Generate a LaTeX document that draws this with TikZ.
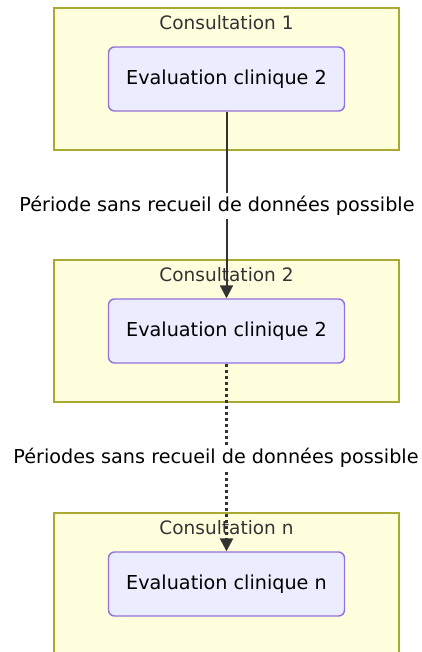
\documentclass[tikz,border=0pt]{standalone}
\usepackage{fontspec}
\setmainfont{DejaVu Sans}
\usetikzlibrary{calc,arrows.meta}
\definecolor{clfill}{HTML}{FFFFDE}
\definecolor{cldraw}{HTML}{AAAA33}
\definecolor{evfill}{HTML}{ECECFF}
\definecolor{evdraw}{HTML}{9370DB}
\definecolor{trait}{HTML}{333333}

\begin{document}
\begin{tikzpicture}[x=1pt,y=-1pt,
  cons/.style={draw=cldraw,fill=clfill,line width=1.4pt,minimum width=345pt,minimum height=142pt,inner sep=0pt},
  titre/.style={text=trait,inner sep=0pt,font=\fontsize{18.5}{22}\selectfont},
  eval/.style={draw=evdraw,fill=evfill,line width=1.4pt,rounded corners=6pt,minimum width=236pt,minimum height=64pt,inner sep=0pt,font=\fontsize{19.2}{23}\selectfont},
  lien/.style={draw=trait,line width=2pt,-{Triangle[width=13pt,length=13pt]}},
  etiq/.style={fill=white,inner sep=3pt,font=\fontsize{19.2}{23}\selectfont}]
%\draw[help lines] (0,0) grid[step=10pt] (422,652);
\useasboundingbox (0,0) rectangle (422,652);
\foreach \i/\e/\y in {1/2/0,2/2/252,n/n/505}{
\node[cons] (cons\i) at (226.5,79+\y) {};
\node[titre] (titre\i) at ($(cons\i.north)+(0,15)$) {Consultation \i};
\node[eval] (eval\i) at (cons\i) {Evaluation clinique \e};
}
\draw[lien] (eval1) -- (eval2);
\draw[lien,dash pattern=on 3pt off 3pt,line width=2.5pt] (eval2) -- (evaln);
\node[etiq] (periode1) at (217,206) {Période sans recueil de données possible};
\node[etiq] (periode2) at (216,458) {Périodes sans recueil de données possible};
\end{tikzpicture}
\end{document}
